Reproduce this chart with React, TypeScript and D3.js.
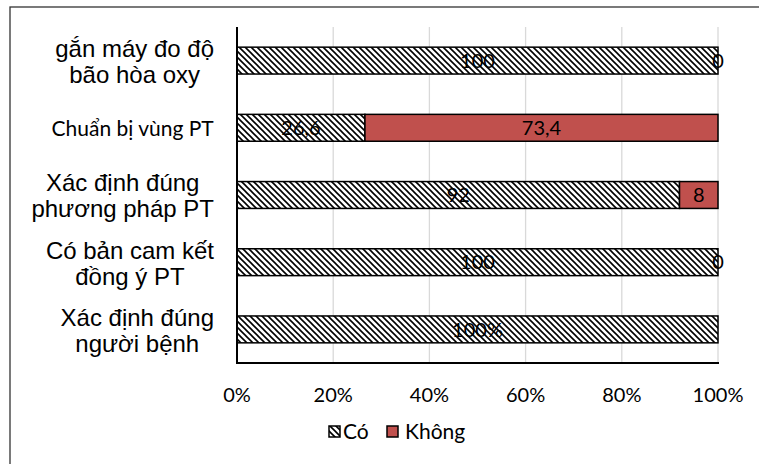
import * as d3 from "d3";

const categories = [
  ["gắn máy đo độ", "bão hòa oxy"],
  ["Chuẩn bị vùng PT"],
  ["Xác định đúng", "phương pháp PT"],
  ["Có bản cam kết", "đồng ý PT"],
  ["Xác định đúng", "người bệnh"],
];
const coValues = [100, 26.6, 92, 100, 100];
const khongValues = [0, 73.4, 8, 0, 0];
const coLabels = ["100", "26,6", "92", "100", "100%"];
const khongLabels = ["0", "73,4", "8", "0", ""];
const xTicks = [0, 20, 40, 60, 80, 100];
const seriesNames = ["Có", "Không"];

const W = 759;
const H = 464;
const RED = "#C0504D";
const ARIAL = "'Liberation Sans', Arial, sans-serif";
const CALIBRI = "Lato, 'Open Sans', sans-serif";

let ctx: CanvasRenderingContext2D | null = null;
function textWidth(s: string, font: string) {
  if (!ctx) ctx = document.createElement("canvas").getContext("2d");
  if (!ctx) return s.length * 10;
  ctx.font = font;
  return ctx.measureText(s).width;
}

export default function App() {
  const x = d3.scaleLinear().domain([0, 100]).range([237, 718]);
  const y = d3
    .scaleBand<number>()
    .domain(d3.range(categories.length))
    .range([27, 363])
    .paddingInner(0.6)
    .paddingOuter(0.3);
  const bh = y.bandwidth();
  const labelRight = 214;

  return (
    <svg
      width={W}
      height={H}
      style={{ position: "absolute", left: 0, top: 0, background: "#fff" }}
    >
      <defs>
        <pattern id="hatch" patternUnits="userSpaceOnUse" width={6} height={6}>
          <rect width={6} height={6} fill="#fff" />
          <path
            d="M0,0 L6,6 M-2,4 L2,8 M4,-2 L8,2"
            stroke="#000"
            strokeWidth={1.6}
          />
        </pattern>
      </defs>
      <rect x={10} y={7} width={770} height={480} fill="#fff" stroke="#333" strokeWidth={1.3} />

      {/* gridlines */}
      {xTicks.slice(1).map((t) => (
        <line
          key={t}
          x1={x(t)}
          x2={x(t)}
          y1={27}
          y2={363}
          stroke="#d9d9d9"
          strokeWidth={1.3}
        />
      ))}

      {/* bars */}
      {categories.map((_, i) => {
        const y0 = y(i)!;
        return (
          <g key={i}>
            <rect
              x={x(0)}
              y={y0}
              width={x(coValues[i]) - x(0)}
              height={bh}
              fill="url(#hatch)"
              stroke="#000"
              strokeWidth={1.5}
            />
            {khongValues[i] > 0 && (
              <rect
                x={x(coValues[i])}
                y={y0}
                width={x(coValues[i] + khongValues[i]) - x(coValues[i])}
                height={bh}
                fill={RED}
                stroke="#000"
                strokeWidth={1.5}
              />
            )}
          </g>
        );
      })}

      {/* data labels */}
      {categories.map((_, i) => {
        const cy = y(i)! + bh / 2;
        return (
          <g key={i} fontFamily={CALIBRI} fontSize={20} fill="#000" textAnchor="middle">
            <text x={(x(0) + x(coValues[i])) / 2} y={cy} dy="0.36em">
              {coLabels[i]}
            </text>
            {khongLabels[i] && (
              <text
                x={(x(coValues[i]) + x(coValues[i] + khongValues[i])) / 2}
                y={cy}
                dy="0.36em"
              >
                {khongLabels[i]}
              </text>
            )}
          </g>
        );
      })}

      {/* axes */}
      <line x1={237} x2={237} y1={27} y2={363} stroke="#000" strokeWidth={2} />
      <line x1={236} x2={719} y1={363} y2={363} stroke="#000" strokeWidth={2} />

      {/* category labels */}
      {categories.map((lines, i) => {
        const single = lines.length === 1;
        const font = single ? CALIBRI : ARIAL;
        const size = single ? 21 : 24;
        const maxW = d3.max(lines, (l) => textWidth(l, `${size}px ${font}`)) || 0;
        const cx = labelRight - maxW / 2;
        const cy = y(i)! + bh / 2 + 1;
        const lh = 26;
        return (
          <text key={i} fontFamily={font} fontSize={size} textAnchor="middle" fill="#000">
            {lines.map((l, j) => (
              <tspan
                key={j}
                x={cx}
                y={cy + (j - (lines.length - 1) / 2) * lh}
                dy="0.35em"
              >
                {l}
              </tspan>
            ))}
          </text>
        );
      })}

      {/* x tick labels */}
      {xTicks.map((t) => (
        <text
          key={t}
          x={x(t)}
          y={395}
          dy="0.35em"
          textAnchor="middle"
          fontFamily={CALIBRI}
          fontSize={20}
          fill="#000"
        >
          {t}%
        </text>
      ))}

      {/* legend */}
      <g fontFamily={CALIBRI} fontSize={21} fill="#000">
        <rect x={329} y={426} width={11} height={11} fill="url(#hatch)" stroke="#000" strokeWidth={1.5} />
        <text x={343} y={432} dy="0.35em">{seriesNames[0]}</text>
        <rect x={387} y={426} width={11} height={11} fill={RED} stroke="#000" strokeWidth={1.5} />
        <text x={405} y={432} dy="0.35em">{seriesNames[1]}</text>
      </g>
    </svg>
  );
}
